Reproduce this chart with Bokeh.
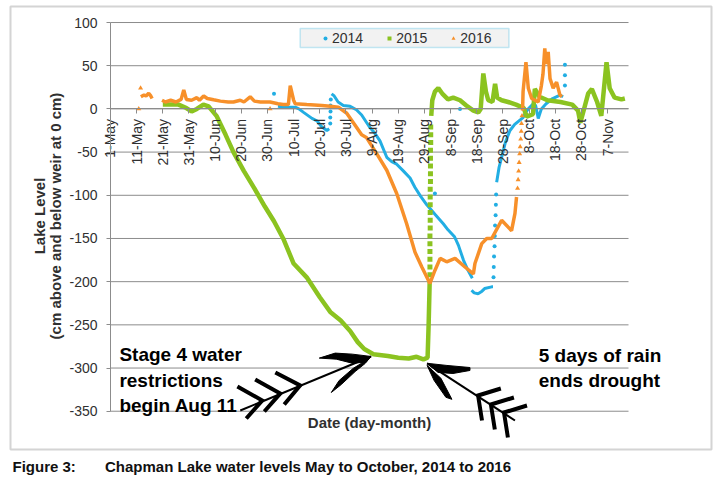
import math
from bokeh.plotting import figure
from bokeh.models import Range1d, FixedTicker, Title, Legend, LegendItem, BoxAnnotation
from bokeh.core.properties import value
from bokeh.embed import file_html
from bokeh.resources import INLINE

FONT = "Liberation Sans"
GRID = "#8c8c8c"
TXT = "#303030"
BLUE, GREEN, ORANGE = "#22aee3", "#8bc320", "#f7902a"

# ---------------- data (x = days since 1 May, y = lake level in cm) ----------------
x_tick_days = [0, 10, 20, 30, 40, 50, 60, 70, 80, 90, 100, 110, 120, 130, 140, 150, 160, 170, 180, 190]
x_tick_labels = ["1-May", "11-May", "21-May", "31-May", "10-Jun", "20-Jun", "30-Jun", "10-Jul",
                 "20-Jul", "30-Jul", "9-Aug", "19-Aug", "29-Aug", "8-Sep", "18-Sep", "28-Sep",
                 "8-Oct", "18-Oct", "28-Oct", "7-Nov"]
y_ticks = [-350, -300, -250, -200, -150, -100, -50, 0, 50, 100]
y_tick_labels = ["-350", "-300", "-250", "-200", "-150", "-100", "-50", "0", "50", "100"]

# 2014
blue_a_days = [64, 67, 70.6, 72, 73.8, 77, 79, 80.5, 82.7, 83.6]
blue_a_vals = [3, 2, 2, 0, -4, -11, -14, -20, -25, -23]
blue_b_days = [84.5, 85.5, 87, 89, 91.6, 94, 96, 99, 101, 103, 105.6, 107.5, 109.4, 112, 114.5,
               116.4, 118.5, 120.9, 124, 127.2, 129, 131.5, 133, 134.9, 136.5, 138.3]
blue_b_vals = [17.5, 15, 8, 4, 3, -1, -7, -21, -28, -37, -56, -61, -64, -72, -80,
               -91, -101, -111, -122, -133, -140, -148, -158, -175, -186, -196]
blue_c_days = [138.0, 139, 140.5, 142, 143, 145.7, 146.2]
blue_c_vals = [-210, -213, -214, -211, -208, -206, -206]
blue_d_days = [147.6, 148.5, 149.5, 151, 152.7, 154.5, 156.5, 157.7, 159, 159.7, 161.6, 162.5,
               163.5, 164.7, 166.5, 169, 171.8, 173]
blue_d_vals = [-85, -68, -56, -38, -25, -18, -13, -10, -3, 0, 6, 4, -11, 0, 6, 12, 16, 14]
blue_dot_days = [84.0, 84.0, 84.1, 84.1, 84.2,
                 146.4, 146.5, 146.6, 146.8, 146.9, 147.0, 147.2, 147.3, 147.4,
                 62.5, 124, 133.6, 173.7, 173.7, 173.7]
blue_dot_vals = [-17, -10, -3, 4, 11,
                 -195, -183, -171, -159, -147, -135, -123, -111, -99,
                 17.5, -98, 0, 27, 39, 51]

# 2015
green_a_days = [20, 26, 29, 31, 33, 35.5, 37.5, 40.5, 44, 47, 51, 55, 59, 62.5, 66, 70, 75, 80,
                84, 88, 91.6, 94.5, 97, 100.5, 106, 110, 114, 117, 119.6, 121.2, 121.6, 122.0]
green_a_vals = [5, 5, 1, -3, 0, 5, 3, -8, -30, -50, -72, -92, -113, -130, -150, -179, -195, -218,
                -235, -245, -257, -270, -278, -284, -286, -288, -289, -287, -290, -288, -250, -200]
green_dot_days = [122.1, 122.1, 122.1, 122.1, 122.1, 122.1, 122.2, 122.2, 122.2, 122.2,
                  122.2, 122.2, 122.3, 122.3, 122.3, 122.3, 122.3, 122.4, 122.4, 122.4]
green_dot_vals = [-192, -183, -174, -165, -156, -147, -138, -129, -120, -111,
                  -102, -93, -84, -75, -66, -57, -48, -39, -30, -21]
green_b_days = [122.6, 123.0, 124.0, 125.3, 127, 129, 131, 133.6, 136, 138.7,
                140.6, 141.5, 142.5, 143.5, 144.4, 146, 147, 147.8, 149.5, 152,
                155, 158, 159, 161.5, 162.2, 164, 167, 172, 176.5, 178.7,
                179.6, 182.6, 184, 186, 187.6, 189.6, 190.8, 192.7, 195.3, 196.6]
green_b_vals = [-8, 10, 20, 24, 17, 11, 13, 10, 4, -2,
                -4, 0, 41, 20, 10, 8, 29, 13, 10, 8,
                5, 1, -9, -6, 23, 14, 10, 8, 5, -2,
                -16, 18, 23, 8, -8, 54, 24, 13, 11, 12]

# 2016
orange_a_days = [11.6, 12.8, 13.6, 14.6, 15.4, 15.9]
orange_a_vals = [14, 16, 15, 18, 15, 12]
orange_b_days = [19.7, 21, 23, 25, 27, 28, 29, 31, 33, 34,
                 35.6, 37, 39.4, 42, 45, 47, 49.6, 51, 53.4, 55,
                 57.3, 61, 64, 66, 68, 68.7, 70, 70.6, 75, 80.8,
                 84, 87.1, 90.3, 93.5, 96, 97.8, 101.8, 105.6, 109.4, 113.2,
                 116.4, 119, 122.1, 124, 126, 128.5, 131.7, 135.5, 138.7, 139.3,
                 141.9, 143.8, 145.7, 149.5, 153.3, 154.6, 155.2]
orange_b_vals = [10, 8, 10, 8, 11, 22, 11, 10, 13, 10,
                 15, 12, 10.5, 9, 8, 8, 10, 8, 14, 9,
                 8, 8, 6, 5, 5, 27, 10, 6, 5, 4,
                 3, 2, -5, -19, -30, -33, -52, -71, -98, -133,
                 -166, -183, -202, -187, -173, -177, -173, -183, -191, -179,
                 -156, -150, -150, -129, -141, -121, -102]
orange_c_days = [157.5, 157.7, 158.8, 159.7, 161, 163.5, 164.7, 165.3, 166, 166.5, 167.3, 168,
                 169.2, 170.5, 171.8, 172.5]
orange_c_vals = [-2, 20, 54, 24, 12, 8, 27, 40, 70, 52, 66, 35, 24, 31, 16, 14]
orange_dot_days = [10.8, 11.5, 61, 155.6, 155.8, 156.0, 156.2, 156.4, 156.6, 156.8, 157.0, 157.1, 157.3]
orange_dot_vals = [0, 24, 0, -92, -82, -72, -62, -52, -44, -35, -26, -17, -8]

# ---------------- figure: the frame is the chart's outer box ----------------
p = figure(width=718, height=486, output_backend="svg", toolbar_location=None,
           x_range=Range1d(-38.22, 229.72), y_range=Range1d(-394.3, 118.55),
           min_border_left=10, min_border_right=7, min_border_top=6, min_border_bottom=37,
           title_location=None)
p.outline_line_color = "#d4d4d4"
p.outline_line_width = 2
p.background_fill_color = "white"
p.border_fill_color = "white"
p.xgrid.visible = False
p.ygrid.visible = False

# y axis at day 0
yax = p.yaxis[0]
yax.fixed_location = 0
yax.ticker = FixedTicker(ticks=y_ticks)
yax.major_label_overrides = {v: lab for v, lab in zip(y_ticks, y_tick_labels)}
yax.bounds = (-350, 100)
yax.axis_line_color = GRID
yax.major_tick_line_color = GRID
yax.major_tick_out = 4
yax.major_tick_in = 0
yax.minor_tick_line_color = None
yax.major_label_text_font = FONT
yax.major_label_text_font_size = "14px"
yax.major_label_text_color = TXT
yax.major_label_standoff = 9

# x axis at level 0
xax = p.xaxis[0]
xax.fixed_location = 0
xax.ticker = FixedTicker(ticks=x_tick_days)
xax.major_label_overrides = {d: lab for d, lab in zip(x_tick_days, x_tick_labels)}
xax.major_label_orientation = math.pi / 2
xax.bounds = (0, 198)
xax.axis_line_color = GRID
xax.major_tick_line_color = GRID
xax.major_tick_out = 5
xax.major_tick_in = 0
xax.minor_tick_line_color = None
xax.major_label_text_font = FONT
xax.major_label_text_font_size = "14px"
xax.major_label_text_color = TXT
xax.major_label_standoff = 5

# horizontal gridlines over the plot area
p.segment(x0=0, y0=y_ticks, x1=198, y1=y_ticks, line_color=GRID, line_width=1, level="underlay")

# series
p.multi_line(xs=[blue_a_days, blue_b_days, blue_c_days, blue_d_days],
             ys=[blue_a_vals, blue_b_vals, blue_c_vals, blue_d_vals],
             line_color=BLUE, line_width=3)
r_blue = p.scatter(blue_dot_days, blue_dot_vals, marker="circle", size=4,
                   fill_color=BLUE, line_color=None)
p.multi_line(xs=[green_a_days, green_b_days], ys=[green_a_vals, green_b_vals],
             line_color=GREEN, line_width=4.5)
r_green = p.scatter(green_dot_days, green_dot_vals, marker="square", size=5,
                    fill_color=GREEN, line_color=None)
p.multi_line(xs=[orange_a_days, orange_b_days, orange_c_days],
             ys=[orange_a_vals, orange_b_vals, orange_c_vals],
             line_color=ORANGE, line_width=3.5)
r_orange = p.scatter(orange_dot_days, orange_dot_vals, marker="triangle", size=5,
                     fill_color=ORANGE, line_color=None)

# arrows (annotation drawings, in chart units)
p.line([49.6, 99.6], [-349.2, -286.6], line_color="black", line_width=2)
p.patches(xs=[[99.6, 92.4, 85.9, 79.8, 86.3, 92.4, 97.7],
              [98.9, 92.7, 87.4, 84.4, 88.2, 93.5, 97.3]],
          ys=[[-286.6, -283.9, -282.7, -288.5, -289.7, -294.4, -293.2],
              [-288.9, -300.5, -314.4, -328.3, -319.1, -304.1, -294.8]],
          fill_color="black", line_color="black", line_width=1)
p.multi_line(xs=[[48.5, 58.0, 51.9], [55.3, 64.9, 58.8], [63.0, 72.5, 66.4]],
             ys=[[-321.3, -337.5, -358.4], [-313.2, -329.4, -350.3], [-305.1, -320.1, -342.2]],
             line_color="black", line_width=4, line_join="miter")
p.line([121.0, 154.6], [-294.5, -360.7], line_color="black", line_width=2)
p.patches(xs=[[121.0, 128.6, 137.4, 137.4, 130.9, 125.2],
              [121.0, 126.3, 130.5, 128.2, 123.7]],
          ys=[[-294.5, -297.0, -299.4, -302.8, -306.3, -305.1],
              [-296.9, -311.9, -336.2, -333.9, -314.4]],
          fill_color="black", line_color="black", line_width=1)
p.multi_line(xs=[[149.2, 140.5, 142.0], [154.2, 145.4, 146.9], [159.2, 150.4, 151.9]],
             ys=[[-323.7, -331.8, -360.7], [-334.1, -342.2, -371.1], [-343.4, -351.5, -380.4]],
             line_color="black", line_width=4, line_join="miter")

# annotation texts
p.text(x=[3.4], y=[-314], text=["Stage 4 water\nrestrictions\nbegin Aug 11"],
       text_align="left", text_baseline="middle", text_font=value(FONT),
       text_font_size="19px", text_font_style="bold", text_line_height=1.2, text_color="black")
p.text(x=[163.7], y=[-300], text=["5 days of rain\nends drought"],
       text_align="left", text_baseline="middle", text_font=value(FONT),
       text_font_size="19px", text_font_style="bold", text_line_height=1.2, text_color="black")

# axis titles
p.text(x=[99], y=[-363], text=["Date (day-month)"], text_align="center", text_baseline="middle",
       text_font=value(FONT), text_font_size="15px", text_font_style="bold", text_color=TXT)
p.text(x=[-27.3, -21.2], y=[-124, -124], text=["Lake Level", "(cm above and below weir at 0 cm)"],
       angle=math.pi / 2, text_align="center", text_baseline="middle", text_font=value(FONT),
       text_font_size="15px", text_font_style="bold", text_color=TXT)

# legend box + legend
p.add_layout(BoxAnnotation(left=72.5, right=152.3, bottom=71.1, top=93.1,
                           fill_color="#f2f2f2", fill_alpha=1,
                           line_color="#3fb8e0", line_width=1.5))
legend = Legend(items=[LegendItem(label="2014", renderers=[r_blue]),
                       LegendItem(label="2015", renderers=[r_green]),
                       LegendItem(label="2016", renderers=[r_orange])],
                orientation="horizontal", location=(310, 403.5),
                background_fill_alpha=0, border_line_color=None,
                padding=0, margin=0, spacing=21, glyph_width=10, glyph_height=16,
                label_height=16, label_standoff=2, label_text_font=FONT,
                label_text_font_size="14px", label_text_color=TXT)
p.add_layout(legend)

# caption
p.add_layout(Title(text="Figure 3:\u00a0\u00a0\u00a0\u00a0\u00a0\u00a0 Chapman Lake water levels May to October, 2014 to 2016",
                   align="left", offset=2, text_font=FONT, text_font_size="15px",
                   text_font_style="bold", text_color="#111111", standoff=13), "below")

open("out.html", "w").write(file_html(p, INLINE))
